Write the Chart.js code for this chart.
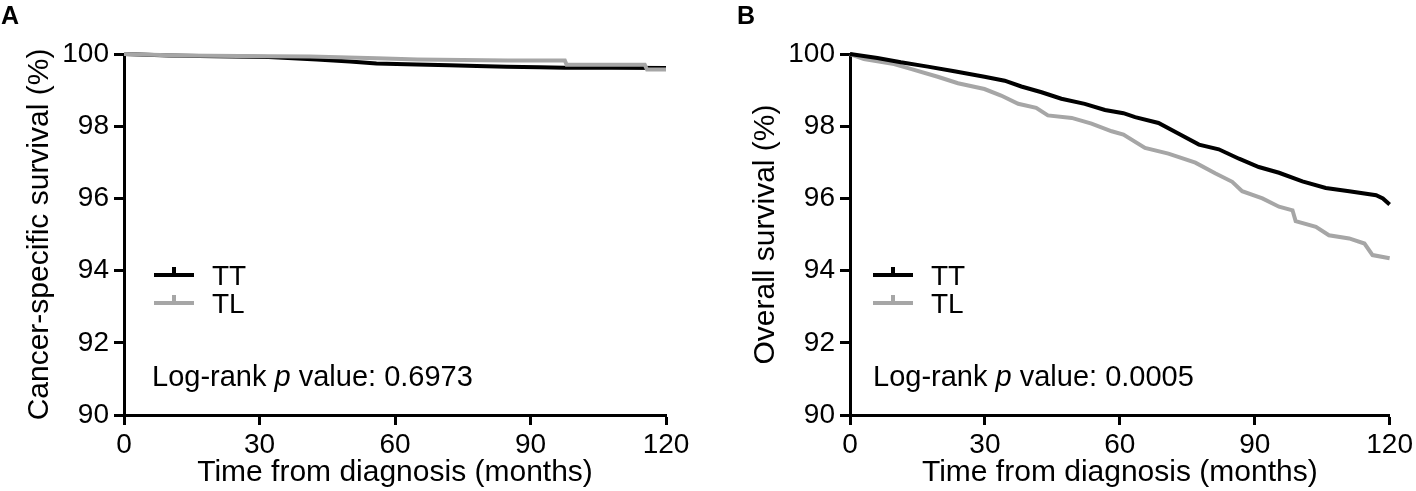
<!DOCTYPE html>
<html>
<head>
<meta charset="utf-8">
<script src="https://cdn.jsdelivr.net/npm/chart.js@4"></script>
<style>
  html, body { margin: 0; padding: 0; background: #fff; }
  #wrap { position: relative; width: 1416px; height: 491px; }
  .panel { position: absolute; top: 0; width: 708px; height: 491px; }
  .letter { position: absolute; top: 3px; font: bold 25px/1 "Liberation Sans", Arial, sans-serif; color: #000; }
</style>
</head>
<body>
<div id="wrap">
  <div class="panel" style="left:0"><canvas id="chart-a"></canvas></div>
  <div class="panel" style="left:708px"><canvas id="chart-b"></canvas></div>
  <div class="letter" style="left:1px">A</div>
  <div class="letter" style="left:737px">B</div>
</div>
<script>
// Panel A: cancer-specific survival (months, %)
const csTimeTT = [0, 10, 20, 32, 42.7, 50, 55.9, 64.8, 72, 78.1, 84.7, 92, 97.6, 108, 120];
const csSurvTT = [100, 99.96, 99.94, 99.92, 99.85, 99.79, 99.74, 99.71, 99.69, 99.67, 99.65, 99.63, 99.62, 99.62, 99.61];
const csTimeTL = [0, 12, 32.3, 41.2, 56, 65, 85, 97.6, 98, 115.3, 115.8, 120];
const csSurvTL = [100, 99.96, 99.94, 99.93, 99.88, 99.85, 99.82, 99.82, 99.70, 99.70, 99.57, 99.57];

// Panel B: overall survival (months, %)
const osTimeTT = [0, 6.1, 11.3, 17.3, 23.2, 29.9, 34.4, 38.1, 42.6, 47.0, 52.2, 56.7, 60.8, 63.4, 68.6, 73.1, 77.6, 82.0, 86.5, 90.9, 95.4, 100.6, 105.8, 111.0, 117.0, 118.5, 120];
const osSurvTT = [100, 99.89, 99.77, 99.65, 99.52, 99.37, 99.26, 99.10, 98.94, 98.76, 98.62, 98.45, 98.36, 98.25, 98.09, 97.79, 97.49, 97.36, 97.10, 96.87, 96.71, 96.47, 96.29, 96.20, 96.09, 96.0, 95.83];
const osTimeTL = [0, 3.1, 9.8, 13.5, 19.5, 24.0, 29.9, 33.6, 37.4, 41.4, 44.0, 49.3, 53.7, 58.2, 60.8, 65.6, 70.8, 76.8, 81.3, 85.0, 87.2, 91.7, 95.4, 98.4, 99.1, 103.6, 106.5, 111.0, 114.4, 116.2, 120];
const osSurvTL = [100, 99.86, 99.72, 99.59, 99.37, 99.19, 99.03, 98.85, 98.62, 98.51, 98.30, 98.23, 98.07, 97.86, 97.77, 97.40, 97.24, 96.99, 96.69, 96.46, 96.20, 96.0, 95.77, 95.67, 95.37, 95.21, 94.98, 94.89, 94.75, 94.43, 94.34];

const xTicks = [0, 30, 60, 90, 120];
const yTicks = [90, 92, 94, 96, 98, 100];
const groupNames = ['TT', 'TL'];

const FONT = '"Liberation Sans", Arial, sans-serif';
const BLACK = '#000000';
const GREY = '#a6a6a6';

function toPoints(times, values) {
    return times.map((t, i) => ({ x: t, y: values[i] }));
}

// legend + log-rank text drawn inside the plot area
const overlayPlugin = {
    id: 'overlay',
    afterDraw(chart, args, opts) {
        const ctx = chart.ctx;
        ctx.save();
        ctx.textBaseline = 'alphabetic';
        chart.data.datasets.forEach((ds, i) => {
            const y = opts.legendY + i * opts.rowGap;
            ctx.strokeStyle = ds.borderColor;
            ctx.lineWidth = 4;
            ctx.beginPath();
            ctx.moveTo(opts.legendX, y);
            ctx.lineTo(opts.legendX + 40, y);
            ctx.moveTo(opts.legendX + 20, y);
            ctx.lineTo(opts.legendX + 20, y - 8);
            ctx.stroke();
            ctx.fillStyle = BLACK;
            ctx.font = '28px ' + FONT;
            ctx.fillText(ds.label, opts.legendX + 58, y + 10);
        });

        // Log-rank p value: x.xxxx  (p in italics)
        let x = opts.pX;
        const y = opts.pY;
        ctx.font = '29px ' + FONT;
        ctx.fillText('Log-rank ', x, y);
        x += ctx.measureText('Log-rank ').width;
        ctx.font = 'italic 29px ' + FONT;
        ctx.fillText('p', x, y);
        x += ctx.measureText('p').width;
        ctx.font = '29px ' + FONT;
        ctx.fillText(' value: ' + opts.pValue, x, y);
        ctx.restore();
    }
};

function makeChart(canvasId, cfg) {
    const ctx = document.getElementById(canvasId);
    return new Chart(ctx, {
        type: 'line',
        data: {
            datasets: [{
                label: groupNames[0],
                data: toPoints(cfg.timeTT, cfg.survTT),
                borderColor: BLACK,
                borderWidth: 4,
                pointRadius: 0,
                tension: 0,
                clip: 8,
                order: 2
            }, {
                label: groupNames[1],
                data: toPoints(cfg.timeTL, cfg.survTL),
                borderColor: GREY,
                borderWidth: 4,
                pointRadius: 0,
                tension: 0,
                clip: 8,
                order: cfg.greyOnTop ? 1 : 3
            }]
        },
        options: {
            responsive: true,
            maintainAspectRatio: false,
            animation: false,
            layout: {
                padding: { left: 0, top: 54, right: cfg.padRight, bottom: 0 }
            },
            scales: {
                x: {
                    type: 'linear',
                    min: 0,
                    max: 120,
                    afterBuildTicks: s => { s.ticks = xTicks.map(v => ({ value: v })); },
                    ticks: { color: BLACK, font: { family: FONT, size: 28 }, padding: 3, maxRotation: 0 },
                    border: { color: BLACK, width: 3 },
                    grid: { drawOnChartArea: false, color: BLACK, tickColor: BLACK, tickLength: 10, tickWidth: 3 },
                    title: {
                        display: true,
                        text: 'Time from diagnosis (months)',
                        color: BLACK,
                        font: { family: FONT, size: 30 },
                        padding: { top: 0, bottom: 0 }
                    },
                    afterFit: s => { s.height = 76; }
                },
                y: {
                    min: 90,
                    max: 100,
                    afterBuildTicks: s => { s.ticks = yTicks.map(v => ({ value: v })); },
                    ticks: { color: BLACK, font: { family: FONT, size: 28 }, padding: 5 },
                    border: { color: BLACK, width: 3 },
                    grid: { drawOnChartArea: false, color: BLACK, tickColor: BLACK, tickLength: 10, tickWidth: 3 },
                    title: {
                        display: true,
                        text: cfg.yTitle,
                        color: BLACK,
                        font: { family: FONT, size: 30 },
                        padding: { top: cfg.yTitlePad, bottom: 0 }
                    },
                    afterFit: s => { s.width = cfg.yWidth; }
                }
            },
            plugins: {
                legend: { display: false },
                tooltip: { enabled: false },
                overlay: {
                    legendX: cfg.legendX,
                    legendY: 275,
                    rowGap: 28,
                    pX: cfg.pX,
                    pY: 386,
                    pValue: cfg.pValue
                }
            }
        },
        plugins: [overlayPlugin]
    });
}

makeChart('chart-a', {
    timeTT: csTimeTT, survTT: csSurvTT, timeTL: csTimeTL, survTL: csSurvTL,
    yTitle: 'Cancer-specific survival (%)',
    yWidth: 124, yTitlePad: 22, padRight: 42, greyOnTop: true,
    legendX: 154, pX: 152, pValue: '0.6973'
});

makeChart('chart-b', {
    timeTT: osTimeTT, survTT: osSurvTT, timeTL: osTimeTL, survTL: osSurvTL,
    yTitle: 'Overall survival (%)',
    yWidth: 142, yTitlePad: 40, padRight: 26, greyOnTop: false,
    legendX: 165, pX: 165, pValue: '0.0005'
});
</script>
</body>
</html>
